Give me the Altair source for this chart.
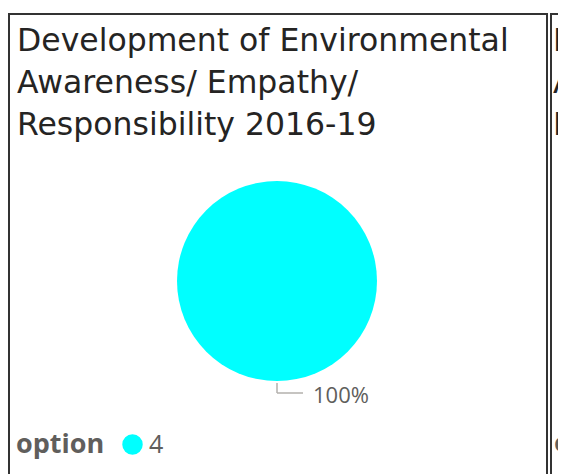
import altair as alt
import pandas as pd

title_lines = ["Development of Environmental", "Awareness/ Empathy/", "Responsibility 2016-19"]
categories = ["4"]
counts = [1]
legend_title = "option"
colors = ["#00FFFF"]

df = pd.DataFrame({"option": categories, "count": counts})
one = alt.Data(values=[{"k": 1}])

W, H = 550, 466
TITLE_FONT = "DejaVu Sans"
BODY_FONT = "Open Sans"

border1 = alt.Chart(one).mark_rect(fillOpacity=0, stroke="#333333", strokeWidth=2).encode(
    x=alt.value(1), x2=alt.value(539), y=alt.value(6), y2=alt.value(490))
border2 = alt.Chart(one).mark_rect(fillOpacity=0, stroke="#333333", strokeWidth=2).encode(
    x=alt.value(543), x2=alt.value(700), y=alt.value(6), y2=alt.value(490))

title1 = alt.Chart(one).mark_text(
    align="left", baseline="alphabetic", font=TITLE_FONT, fontSize=31.5,
    color="#252423", lineBreak="\n", lineHeight=42
).encode(x=alt.value(9), y=alt.value(43), text=alt.value("\n".join(title_lines)))

title2 = alt.Chart(one).mark_text(
    align="left", baseline="alphabetic", font=TITLE_FONT, fontSize=31.5,
    color="#252423", lineBreak="\n", lineHeight=42
).encode(x=alt.value(545), y=alt.value(43), text=alt.value("\n".join(title_lines)))

pie = alt.Chart(df).mark_arc(outerRadius=100).encode(
    theta=alt.Theta("count:Q"),
    color=alt.Color(
        "option:N",
        scale=alt.Scale(domain=categories, range=colors),
        legend=alt.Legend(
            orient="none", legendX=8, legendY=424, direction="horizontal",
            title=legend_title, titleOrient="left",
            titleFont=BODY_FONT, titleFontSize=27, titleFontWeight="bold",
            titleColor="#605E5C", labelFont=BODY_FONT, labelFontSize=25,
            labelColor="#605E5C", symbolType="circle", symbolSize=420,
            symbolStrokeWidth=0, titlePadding=15, labelOffset=4, padding=0,
        ),
    ),
    x=alt.value(269),
    y=alt.value(273),
)

label = alt.Chart(df).transform_joinaggregate(
    total="sum(count)"
).transform_calculate(
    pct="format(datum.count / datum.total, '.0%')"
).mark_text(
    align="left", baseline="alphabetic", font=BODY_FONT, fontSize=22, color="#605E5C"
).encode(x=alt.value(305), y=alt.value(395), text="pct:N")

leader_v = alt.Chart(one).mark_rule(color="#B3B0AD", strokeWidth=1.5).encode(
    x=alt.value(269), y=alt.value(375), y2=alt.value(385))
leader_h = alt.Chart(one).mark_rule(color="#B3B0AD", strokeWidth=1.5).encode(
    x=alt.value(269), x2=alt.value(295), y=alt.value(385))

option2 = alt.Chart(one).mark_text(
    align="left", baseline="alphabetic", font=BODY_FONT, fontSize=27,
    fontWeight="bold", color="#605E5C"
).encode(x=alt.value(546), y=alt.value(444), text=alt.value(legend_title))

chart = alt.layer(
    border1, border2, title1, title2, pie, label, leader_v, leader_h, option2
).properties(
    width=W, height=H, autosize="none", padding=0, background="white"
).configure_view(stroke=None)

chart.save("out.html", embed_options={"renderer": "svg", "actions": False})
